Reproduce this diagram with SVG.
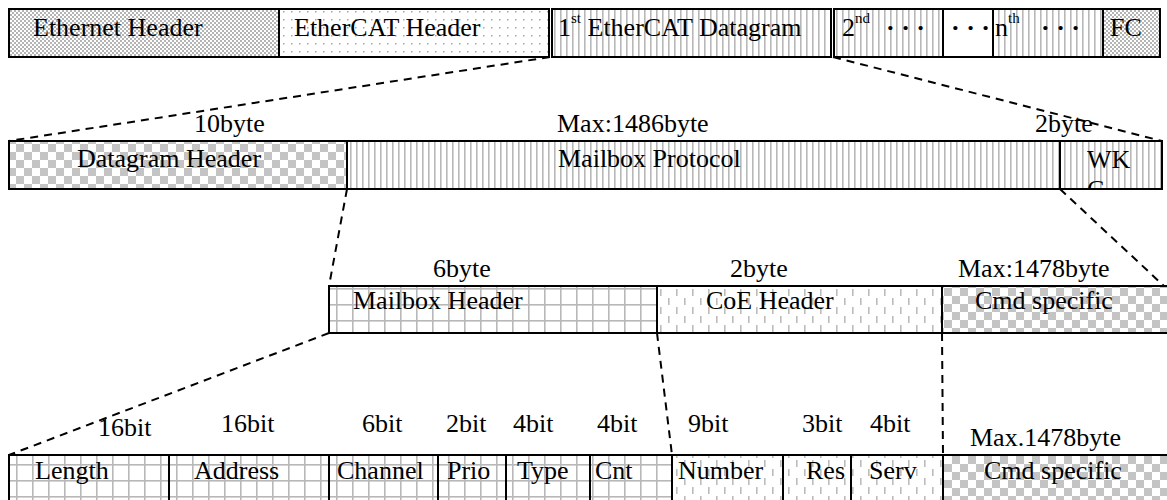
<svg xmlns="http://www.w3.org/2000/svg" width="1167" height="500" viewBox="0 0 1167 500">
<defs>
  <pattern id="fineChecker" width="4" height="4" patternUnits="userSpaceOnUse">
    <rect width="4" height="4" fill="#fff"/>
    <rect width="2" height="2" fill="#b4b4b4"/>
    <rect x="2" y="2" width="2" height="2" fill="#b4b4b4"/>
  </pattern>
  <pattern id="dots" width="8" height="8" patternUnits="userSpaceOnUse">
    <rect width="8" height="8" fill="#fff"/>
    <rect x="3" y="3" width="1.5" height="1.5" fill="#a8a8a8"/>
  </pattern>
  <pattern id="vlines" width="6" height="10" patternUnits="userSpaceOnUse">
    <rect width="6" height="10" fill="#fff"/>
    <rect x="2" width="1.6" height="10" fill="#b8b8b8"/>
  </pattern>
  <pattern id="checker" width="16" height="16" patternUnits="userSpaceOnUse">
    <rect width="16" height="16" fill="#fff"/>
    <rect width="8" height="8" fill="#c4c4c4"/>
    <rect x="8" y="8" width="8" height="8" fill="#c4c4c4"/>
  </pattern>
  <pattern id="grid" width="16" height="16" patternUnits="userSpaceOnUse">
    <rect width="16" height="16" fill="#fff"/>
    <rect x="0" width="1.6" height="16" fill="#b8b8b8"/>
    <rect y="0" width="16" height="1.6" fill="#b8b8b8"/>
  </pattern>
  <pattern id="dashes" width="16" height="18" patternUnits="userSpaceOnUse">
    <rect width="16" height="18" fill="#fff"/>
    <rect x="4" y="1" width="1.6" height="7" fill="#bcbcbc"/>
    <rect x="12" y="10" width="1.6" height="7" fill="#bcbcbc"/>
  </pattern>
  <clipPath id="wkcClip"><rect x="1060" y="141" width="102" height="48"/></clipPath>
</defs>
<style>
  .box { stroke:#000; stroke-width:2; }
  text { font-family:"Liberation Serif","Times New Roman",serif; font-size:26px; fill:#000; }
  .sup { font-size:15px; }
  .dots { font-weight:bold; }
  .conn { fill:none; stroke:#000; stroke-width:2; stroke-dasharray:8 6; }
</style>

<!-- Row 1: Ethernet frame -->
<g id="ethernet-header">
  <rect class="box" x="9" y="9" width="270" height="48" fill="url(#fineChecker)"/>
  <text x="33" y="36">Ethernet Header</text>
</g>
<g id="ethercat-header">
  <rect class="box" x="279" y="9" width="270" height="48" fill="url(#dots)"/>
  <text x="294" y="36">EtherCAT Header</text>
</g>
<g id="datagram-1">
  <rect class="box" x="552" y="9" width="279" height="48" fill="url(#vlines)"/>
  <text x="558" y="36">1<tspan class="sup" dy="-13">st</tspan><tspan dy="13"> EtherCAT Datagram</tspan></text>
</g>
<g id="datagram-2">
  <rect class="box" x="834" y="9" width="109" height="48" fill="url(#vlines)"/>
  <text x="842" y="36">2<tspan class="sup" dy="-13">nd</tspan></text>
  <text class="dots" x="886" y="36">· · ·</text>
</g>
<g id="datagram-gap">
  <rect class="box" x="943" y="9" width="50" height="48" fill="#fff"/>
  <text class="dots" x="951" y="36">· · ·</text>
</g>
<g id="datagram-n">
  <rect class="box" x="993" y="9" width="110" height="48" fill="url(#vlines)"/>
  <text x="995" y="36">n<tspan class="sup" dy="-13">th</tspan></text>
  <text class="dots" x="1041" y="36">· · ·</text>
</g>
<g id="fc">
  <rect class="box" x="1103" y="9" width="57" height="48" fill="url(#fineChecker)"/>
  <text x="1110" y="36">FC</text>
</g>

<!-- Row 2: Datagram -->
<g id="datagram-header">
  <rect class="box" x="9" y="141" width="338" height="48" fill="url(#checker)"/>
  <text x="77" y="167">Datagram Header</text>
</g>
<g id="mailbox-protocol">
  <rect class="box" x="347" y="141" width="713" height="48" fill="url(#vlines)"/>
  <text x="558" y="167">Mailbox Protocol</text>
</g>
<g id="wkc">
  <rect class="box" x="1060" y="141" width="102" height="48" fill="url(#vlines)"/>
  <text x="1087" y="168" clip-path="url(#wkcClip)">WK<tspan x="1087" dy="30">C</tspan></text>
</g>

<!-- Row 3: Mailbox -->
<g id="mailbox-header">
  <rect class="box" x="329" y="286" width="328" height="47" fill="url(#grid)"/>
  <text x="353" y="309">Mailbox Header</text>
</g>
<g id="coe-header">
  <rect class="box" x="657" y="286" width="285" height="47" fill="url(#dashes)"/>
  <text x="706" y="309">CoE Header</text>
</g>
<g id="cmd-specific-1">
  <rect class="box" x="942" y="286" width="230" height="47" fill="url(#checker)"/>
  <text x="975" y="309">Cmd specific</text>
</g>

<!-- Row 4: fields -->
<g id="length">
  <rect class="box" x="9" y="455" width="160" height="50" fill="url(#grid)"/>
  <text x="35" y="479">Length</text>
</g>
<g id="address">
  <rect class="box" x="169" y="455" width="160" height="50" fill="url(#grid)"/>
  <text x="194" y="479">Address</text>
</g>
<g id="channel">
  <rect class="box" x="329" y="455" width="109" height="50" fill="url(#grid)"/>
  <text x="337" y="479">Channel</text>
</g>
<g id="prio">
  <rect class="box" x="438" y="455" width="68" height="50" fill="url(#grid)"/>
  <text x="447" y="479">Prio</text>
</g>
<g id="type">
  <rect class="box" x="506" y="455" width="84" height="50" fill="url(#grid)"/>
  <text x="517" y="479">Type</text>
</g>
<g id="cnt">
  <rect class="box" x="590" y="455" width="82" height="50" fill="url(#grid)"/>
  <text x="595" y="479">Cnt</text>
</g>
<g id="number">
  <rect class="box" x="672" y="455" width="111" height="50" fill="url(#dashes)"/>
  <text x="678" y="479">Number</text>
</g>
<g id="res">
  <rect class="box" x="783" y="455" width="68" height="50" fill="url(#dashes)"/>
  <text x="806" y="479">Res</text>
</g>
<g id="serv">
  <rect class="box" x="851" y="455" width="92" height="50" fill="url(#dashes)"/>
  <text x="869" y="479">Serv</text>
</g>
<g id="cmd-specific-2">
  <rect class="box" x="943" y="455" width="229" height="50" fill="url(#checker)"/>
  <text x="984" y="479">Cmd specific</text>
</g>

<!-- Connectors -->
<g id="connectors">
  <line class="conn" x1="550" y1="57" x2="9" y2="141"/>
  <line class="conn" x1="833" y1="57" x2="1162" y2="141"/>
  <line class="conn" x1="347" y1="189" x2="329" y2="286"/>
  <line class="conn" x1="1060" y1="189" x2="1164" y2="286"/>
  <line class="conn" x1="329" y1="333" x2="9" y2="455"/>
  <line class="conn" x1="657" y1="333" x2="672" y2="455"/>
  <line class="conn" x1="942" y1="333" x2="943" y2="455"/>
</g>

<!-- Size labels -->
<g id="labels">
  <text x="194" y="132">10byte</text>
  <text x="557" y="132">Max:1486byte</text>
  <text x="1035" y="132">2byte</text>
  <text x="433" y="277">6byte</text>
  <text x="730" y="277">2byte</text>
  <text x="958" y="277">Max:1478byte</text>
  <text x="98" y="436">16bit</text>
  <text x="221" y="432">16bit</text>
  <text x="362" y="432">6bit</text>
  <text x="446" y="432">2bit</text>
  <text x="513" y="432">4bit</text>
  <text x="597" y="432">4bit</text>
  <text x="688" y="432">9bit</text>
  <text x="802" y="432">3bit</text>
  <text x="870" y="432">4bit</text>
  <text x="970" y="446">Max.1478byte</text>
</g>
</svg>
